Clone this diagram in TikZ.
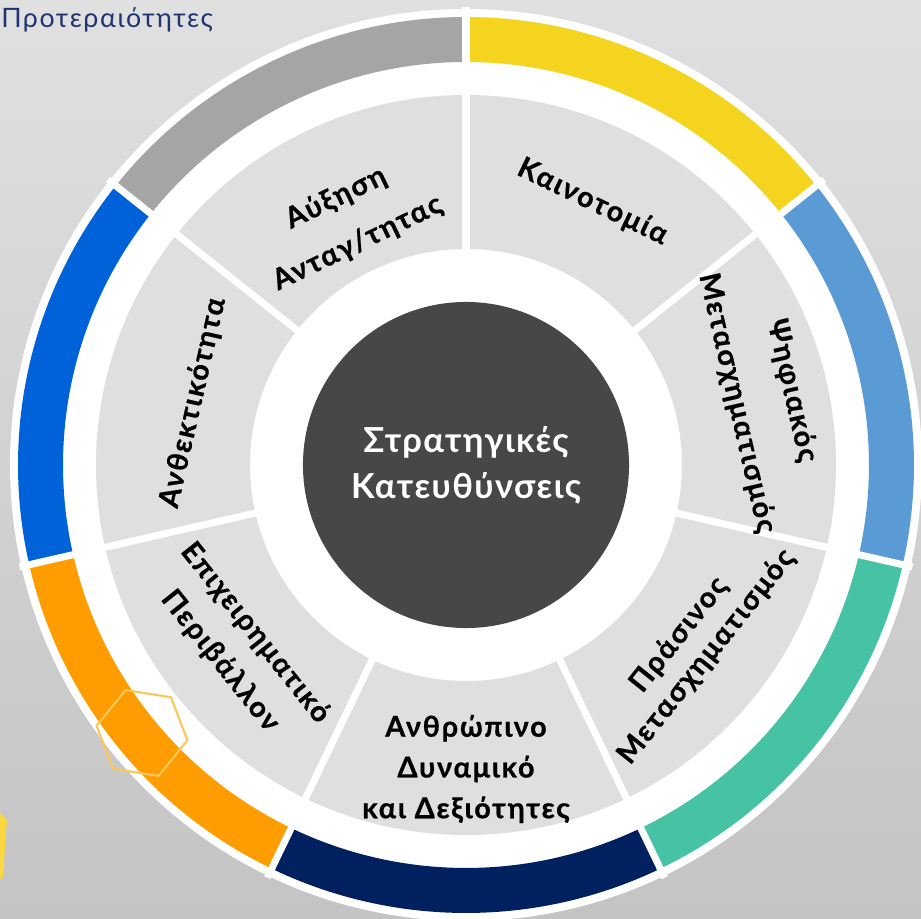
\documentclass[tikz,border=0pt]{standalone}
\usepackage{fontspec}
\setmainfont{Lato}
\newfontfamily\labelfont[LetterSpace=6, BoldFeatures={FakeBold=0.6}]{Lato}
\newfontfamily\corefont[LetterSpace=4]{Lato}
\usepackage{tikz}
\usetikzlibrary{positioning}

\definecolor{bgtop}{HTML}{E0E0E0}
\definecolor{bgbottom}{HTML}{C4C4C4}
\definecolor{seggrey}{HTML}{DFDFDF}
\definecolor{coregrey}{HTML}{474747}
\definecolor{ringgrey}{HTML}{A5A5A5}
\definecolor{ringyellow}{HTML}{F4D41E}
\definecolor{ringsky}{HTML}{5B9BD5}
\definecolor{ringteal}{HTML}{45C3A4}
\definecolor{ringnavy}{HTML}{002060}
\definecolor{ringorange}{HTML}{FF9C00}
\definecolor{ringblue}{HTML}{0062D9}
\definecolor{hexyellow}{HTML}{F9C85C}
\definecolor{titleblue}{HTML}{1F3470}

\begin{document}
\begin{tikzpicture}[x=0.025cm, y=0.025cm,
    gap/.style={white, line width=5pt},
    seglabel/.style={inner sep=0pt, align=center},
    core/.style={circle, fill=coregrey, minimum size=8.15cm, inner sep=0pt, text=white, align=center,
      font=\corefont\bfseries\fontsize{24.5}{32.7}\selectfont}]
  \useasboundingbox (-466,-454) rectangle (455,465);
  \shade[top color=bgtop, bottom color=bgbottom] (-466,-454) rectangle (455,465);

  \node[text=titleblue, font=\labelfont\fontsize{19}{21}\selectfont, anchor=base west, inner sep=0pt] (prio) at (-465,437) {Προτεραιότητες};

  \fill[white] (0,0) circle[radius=456];
  \fill[ringgrey] (90:403) arc[start angle=90, end angle=141.43, radius=403] -- (141.43:448) arc[start angle=141.43, end angle=90, radius=448] -- cycle;
  \fill[ringyellow] (38.57:403) arc[start angle=38.57, end angle=90, radius=403] -- (90:448) arc[start angle=90, end angle=38.57, radius=448] -- cycle;
  \fill[ringsky] (-12.86:403) arc[start angle=-12.86, end angle=38.57, radius=403] -- (38.57:448) arc[start angle=38.57, end angle=-12.86, radius=448] -- cycle;
  \fill[ringteal] (-64.29:403) arc[start angle=-64.29, end angle=-12.86, radius=403] -- (-12.86:448) arc[start angle=-12.86, end angle=-64.29, radius=448] -- cycle;
  \fill[ringnavy] (-115.71:403) arc[start angle=-115.71, end angle=-64.29, radius=403] -- (-64.29:448) arc[start angle=-64.29, end angle=-115.71, radius=448] -- cycle;
  \fill[ringorange] (-167.14:403) arc[start angle=-167.14, end angle=-115.71, radius=403] -- (-115.71:448) arc[start angle=-115.71, end angle=-167.14, radius=448] -- cycle;
  \fill[ringblue] (141.43:403) arc[start angle=141.43, end angle=192.86, radius=403] -- (192.86:448) arc[start angle=192.86, end angle=141.43, radius=448] -- cycle;

  \fill[seggrey, even odd rule] (0,0) circle[radius=370] (0,0) circle[radius=216];

  \draw[gap] (90:210) -- (90:458);
  \draw[gap] (38.57:210) -- (38.57:458);
  \draw[gap] (-12.86:210) -- (-12.86:458);
  \draw[gap] (-64.29:210) -- (-64.29:458);
  \draw[gap] (-115.71:210) -- (-115.71:458);
  \draw[gap] (-167.14:210) -- (-167.14:458);
  \draw[gap] (141.43:210) -- (141.43:458);

  \draw[hexyellow, line width=1.5pt, line join=round] (-324,-268) +(111:46) -- +(51:46) -- +(-9:46) -- +(-69:46) -- +(-129:46) -- +(171:46) -- cycle;
  \fill[hexyellow!70!yellow] (-466,-348) -- (-459,-355) -- (-463,-412) -- (-466,-415) -- cycle;

  \node[core] (core) at (0,0) {Στρατηγικές\\Κατευθύνσεις};

  \node[seglabel, rotate=-25.71, font=\labelfont\bfseries\fontsize{20.5}{23}\selectfont] (kain) at (64.29:292) {Καινοτομία};
  \node[seglabel, rotate=25.71, font=\labelfont\bfseries\fontsize{20.5}{35.5}\selectfont] (anta) at (116:272) {Αύξηση\\Ανταγ/τητας};
  \node[seglabel, rotate=-77.14, font=\labelfont\bfseries\fontsize{20.5}{40}\selectfont] (psif) at (12.86:306) {Ψηφιακός\\Μετασχηματισμός};
  \node[seglabel, rotate=51.43, font=\labelfont\bfseries\fontsize{20.5}{25}\selectfont] (pras) at (-38.57:290) {Πράσινος\\Μετασχηματισμός};
  \node[seglabel, font=\labelfont\bfseries\fontsize{20.5}{29}\selectfont] (anth) at (-90:304) {Ανθρώπινο\\Δυναμικό\\και Δεξιότητες};
  \node[seglabel, rotate=-51.43, font=\labelfont\bfseries\fontsize{20.5}{32}\selectfont] (epix) at (-141.43:292) {Επιχειρηματικό\\Περιβάλλον};
  \node[seglabel, rotate=77.14, font=\labelfont\bfseries\fontsize{20.5}{23}\selectfont] (ante) at (167.14:280) {Ανθεκτικότητα};
\end{tikzpicture}
\end{document}
